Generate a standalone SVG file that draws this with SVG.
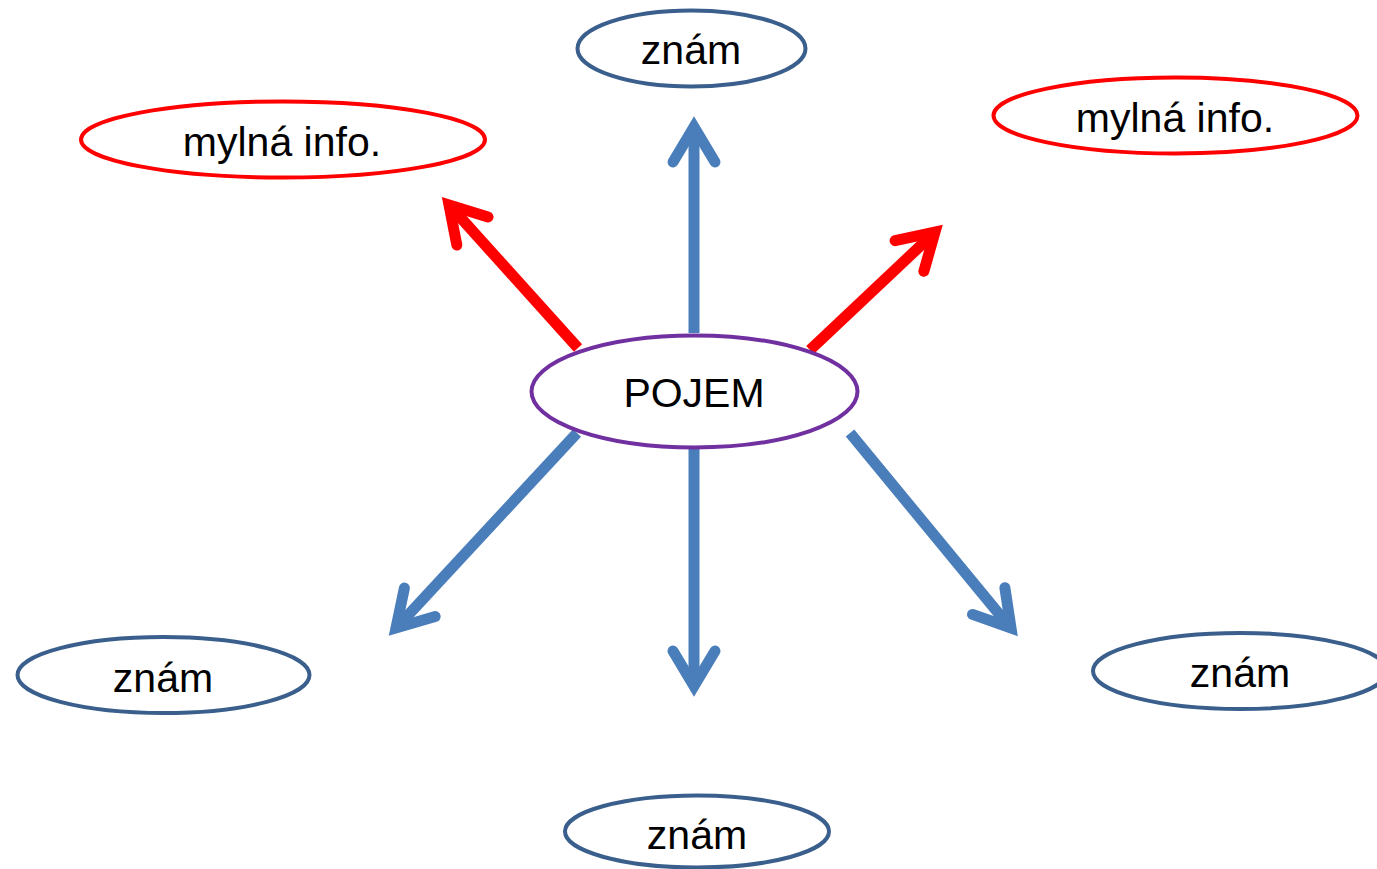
<svg xmlns="http://www.w3.org/2000/svg" xmlns:xlink="http://www.w3.org/1999/xlink" width="1377" height="869" viewBox="0 0 1377 869">
<style>
.bg{fill:#ffffff}
.node ellipse{fill:#ffffff;stroke-width:4}
.blue ellipse{stroke:#3A5F8C}
.red ellipse{stroke:#FF0000}
.main ellipse{stroke:#7030A0}
.node text{font-family:"Liberation Sans",Arial,sans-serif;font-size:41px;fill:#000000;text-anchor:middle}
.conn line{stroke-width:11;fill:none}
.conn use{fill:none;stroke-width:11}
.cb{stroke:#4A7EBB}
.cr{stroke:#FF0000}
</style>
<defs>
<path id="head" d="M-35,-21 L0,0 L-35,21" stroke-linecap="round" stroke-linejoin="miter" stroke-miterlimit="10"/>
</defs>
<rect class="bg" x="0" y="0" width="1377" height="869"/>
<g id="connectors" class="conn">
<line class="cb" x1="694" y1="333" x2="694" y2="130"/>
<use class="cb" xlink:href="#head" transform="translate(694,127) rotate(-90)"/>
<line class="cb" x1="694" y1="448" x2="694" y2="683"/>
<use class="cb" xlink:href="#head" transform="translate(694,686) rotate(90)"/>
<line class="cr" x1="578" y1="348" x2="451" y2="207"/>
<use class="cr" xlink:href="#head" transform="translate(449,205) rotate(-132)"/>
<line class="cr" x1="810" y1="350" x2="933" y2="234"/>
<use class="cr" xlink:href="#head" transform="translate(935,232) rotate(-43.2)"/>
<line class="cb" x1="577" y1="433" x2="398" y2="626"/>
<use class="cb" xlink:href="#head" transform="translate(396,628) rotate(132.8)"/>
<line class="cb" x1="850" y1="433" x2="1009" y2="626"/>
<use class="cb" xlink:href="#head" transform="translate(1011,628) rotate(50.4)"/>
</g>
<g id="n_top" class="node blue">
<ellipse cx="691.5" cy="48.5" rx="114" ry="38"/>
<text x="691" y="64">znám</text>
</g>
<g id="n_mylna_left" class="node red">
<ellipse cx="283" cy="139.5" rx="202" ry="38"/>
<text x="282" y="156">mylná info.</text>
</g>
<g id="n_mylna_right" class="node red">
<ellipse cx="1175.5" cy="115.5" rx="182" ry="38"/>
<text x="1175" y="132">mylná info.</text>
</g>
<g id="n_pojem" class="node main">
<ellipse cx="694.5" cy="391.5" rx="163" ry="56"/>
<text x="694" y="407">POJEM</text>
</g>
<g id="n_left" class="node blue">
<ellipse cx="163.5" cy="675" rx="146" ry="38"/>
<text x="163" y="692">znám</text>
</g>
<g id="n_right" class="node blue">
<ellipse cx="1240" cy="671" rx="147" ry="38"/>
<text x="1240" y="687">znám</text>
</g>
<g id="n_bottom" class="node blue">
<ellipse cx="697" cy="831.5" rx="132" ry="36"/>
<text x="697" y="849">znám</text>
</g>
</svg>
